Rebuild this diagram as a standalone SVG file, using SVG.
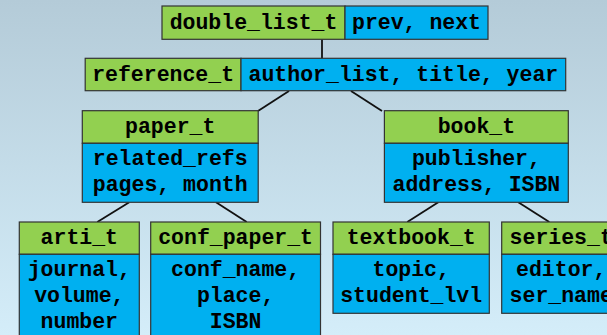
<svg xmlns="http://www.w3.org/2000/svg" width="607" height="335" viewBox="0 0 607 335">
<defs>
<linearGradient id="bg" x1="0" y1="0" x2="0" y2="1">
<stop offset="0" stop-color="#b4cbd8"/>
<stop offset="1" stop-color="#d4edf9"/>
</linearGradient>
</defs>
<style>
.g{fill:#92d050;stroke:#333;stroke-width:1.2}
.b{fill:#00b0f0;stroke:#333;stroke-width:1.2}
.t{font-family:"Courier New","Nimbus Mono PS","Nimbus Mono L",FreeMono,"Liberation Mono",monospace;font-weight:bold;font-size:21.5px;fill:#000;text-anchor:middle}
.c{stroke:#111;stroke-width:1.8;fill:none}
</style>
<rect x="0" y="0" width="607" height="335" fill="url(#bg)"/>
<g id="connectors">
<line class="c" x1="322" y1="39.5" x2="322" y2="58.5"/>
<line class="c" x1="289" y1="91" x2="258" y2="111"/>
<line class="c" x1="351" y1="91" x2="382" y2="111"/>
<line class="c" x1="129.3" y1="202.3" x2="97.3" y2="222"/>
<line class="c" x1="216" y1="202.3" x2="246.7" y2="222"/>
<line class="c" x1="438.3" y1="202.3" x2="407.3" y2="222"/>
<line class="c" x1="518.3" y1="202.3" x2="549.3" y2="222"/>
</g>
<g id="double_list_t">
<rect class="g" x="162" y="6" width="183" height="33.3"/>
<rect class="b" x="345" y="6" width="143" height="33.3"/>
<text class="t" x="253.5" y="28.5">double_list_t</text>
<text class="t" x="416.5" y="28.5">prev, next</text>
</g>
<g id="reference_t">
<rect class="g" x="85.2" y="58.3" width="155.8" height="32.4"/>
<rect class="b" x="241" y="58.3" width="324.7" height="32.4"/>
<text class="t" x="163.1" y="81">reference_t</text>
<text class="t" x="403.4" y="81">author_list, title, year</text>
</g>
<g id="paper_t">
<rect class="g" x="82.3" y="110.7" width="175.9" height="32.6"/>
<rect class="b" x="82.3" y="143.3" width="175.9" height="59"/>
<text class="t" x="170.2" y="133.3">paper_t</text>
<text class="t" x="170.2" y="165.3">related_refs</text>
<text class="t" x="170.2" y="191">pages, month</text>
</g>
<g id="book_t">
<rect class="g" x="384.4" y="110.7" width="183.9" height="32.6"/>
<rect class="b" x="384.4" y="143.3" width="183.9" height="59"/>
<text class="t" x="476.4" y="133.3">book_t</text>
<text class="t" x="476.4" y="165.3">publisher,</text>
<text class="t" x="476.4" y="191">address, ISBN</text>
</g>
<g id="arti_t">
<rect class="g" x="19.3" y="222" width="120" height="32.3"/>
<rect class="b" x="19.3" y="254.3" width="120" height="90"/>
<text class="t" x="79.3" y="243.7">arti_t</text>
<text class="t" x="79.3" y="276">journal,</text>
<text class="t" x="79.3" y="302">volume,</text>
<text class="t" x="79.3" y="328.3">number</text>
</g>
<g id="conf_paper_t">
<rect class="g" x="150.7" y="222" width="169.8" height="32.3"/>
<rect class="b" x="150.7" y="254.3" width="169.8" height="90"/>
<text class="t" x="235.6" y="243.7">conf_paper_t</text>
<text class="t" x="235.6" y="276">conf_name,</text>
<text class="t" x="235.6" y="302">place,</text>
<text class="t" x="235.6" y="328.3">ISBN</text>
</g>
<g id="textbook_t">
<rect class="g" x="333" y="222" width="156.3" height="32.3"/>
<rect class="b" x="333" y="254.3" width="156.3" height="59"/>
<text class="t" x="411.2" y="243.7">textbook_t</text>
<text class="t" x="411.2" y="276">topic,</text>
<text class="t" x="411.2" y="301.7">student_lvl</text>
</g>
<g id="series_t">
<rect class="g" x="501.7" y="222" width="119" height="32.3"/>
<rect class="b" x="501.7" y="254.3" width="119" height="59"/>
<text class="t" x="561.2" y="243.7">series_t</text>
<text class="t" x="561.2" y="276">editor,</text>
<text class="t" x="561.2" y="301.7">ser_name</text>
</g>
</svg>
